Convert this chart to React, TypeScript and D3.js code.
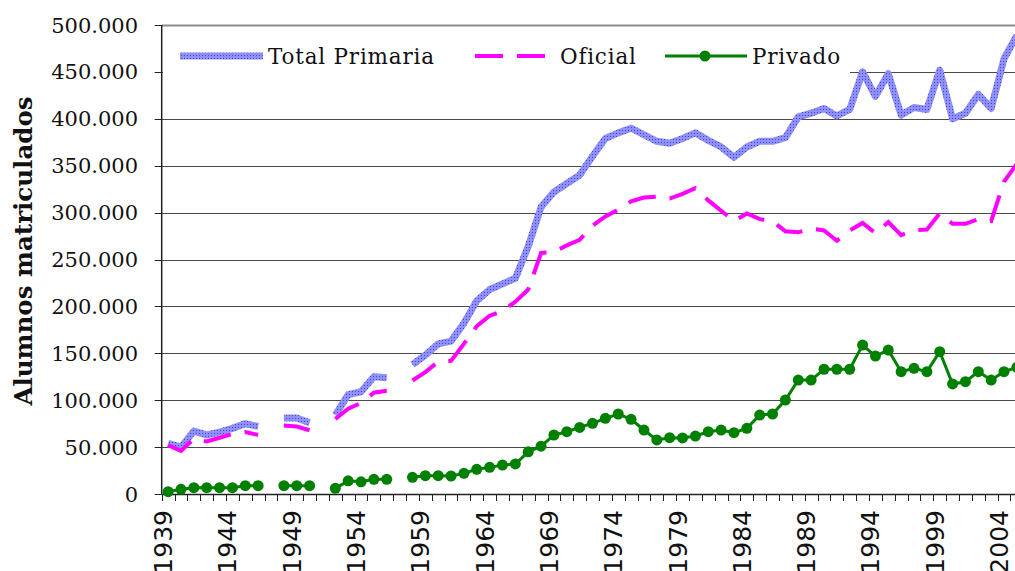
import React, { useEffect, useRef } from "react";
import * as d3 from "d3";

// 1939..2005, null = no data that year
const years = d3.range(1939, 2006);

const totalPrimaria = [
  54000, 50000, 67000, 63000, 66000, 70000, 75000, 72000, null, 81000,
  81000, 76000, null, 84000, 106000, 109000, 125000, 124000, null, 138000,
  148000, 160000, 163000, 182000, 206000, 218000, 224000, 230000, 264000, 306000,
  322000, 331000, 340000, 360000, 379000, 385000, 390000, 383000, 376000, 374000,
  379000, 385000, 377000, 370000, 359000, 370000, 376000, 376000, 380000, 402000,
  406000, 411000, 403000, 410000, 450000, 424000, 448000, 404000, 412000, 410000,
  452000, 400000, 406000, 426000, 411000, 464000, 489000,
];

const oficial = [
  52000, 46000, 59000, 56000, 60000, 64000, 66000, 63000, null, 73000,
  72000, 68000, null, 80000, 91000, 97000, 108000, 110000, null, 121000,
  130000, 141000, 142000, 160000, 179000, 190000, 195000, 205000, 218000, 257000,
  258000, 265000, 271000, 286000, 296000, 303000, 312000, 316000, 317000, 315000,
  320000, 326000, 313000, 302000, 291000, 299000, 293000, 291000, 280000, 279000,
  283000, 281000, 270000, 281000, 289000, 278000, 290000, 276000, 281000, 282000,
  299000, 288000, 288000, 293000, 291000, 333000, 352000,
];

const privado = [
  2500, 5000, 6700, 6700, 6700, 6700, 8900, 8900, null, 8900,
  8900, 8900, null, 6000, 14000, 13000, 15600, 15600, null, 17800,
  19500, 19500, 19200, 22000, 26300, 28400, 30900, 32000, 45000, 51000,
  62900, 66400, 71000, 75400, 80700, 85300, 79600, 68200, 57600, 60000,
  59800, 61800, 66400, 68200, 65400, 70000, 84200, 85300, 100200, 121500,
  121500, 133000, 133000, 133000, 158800, 147000, 153500, 130400, 134000, 130400,
  151700, 117300, 119700, 130400, 121500, 130400, 135000,
];

const yTicks = [0, 50000, 100000, 150000, 200000, 250000, 300000, 350000, 400000, 450000, 500000];
const xLabelYears = d3.range(1939, 2005, 5);

const serif = "'DejaVu Serif', serif";
const sans = "'DejaVu Sans', sans-serif";

export default function App() {
  const ref = useRef(null);

  useEffect(() => {
    draw();
  }, []);

  let draw = () => {
    let svg = d3.select(ref.current);
    svg.selectAll("*").remove();

    let left = 161.7;
    let step = 12.86;
    let top = 25;
    let bottom = 494;

    let fmt = d3.formatLocale({ decimal: ",", thousands: ".", grouping: [3], currency: ["", ""] }).format(",d");

    let xScale = d3
      .scaleBand()
      .domain(years.map(String))
      .range([left, left + step * years.length])
      .padding(0);
    let cx = (yr) => xScale(String(yr)) + xScale.bandwidth() / 2;

    let yScale = d3.scaleLinear().domain([0, 500000]).range([bottom, top]);

    let defs = svg.append("defs");
    let pat = defs
      .append("pattern")
      .attr("id", "bluePat")
      .attr("patternUnits", "userSpaceOnUse")
      .attr("width", 3)
      .attr("height", 3);
    pat.append("rect").attr("width", 3).attr("height", 3).attr("fill", "#9090fb");
    pat.append("rect").attr("x", 1).attr("y", 1).attr("width", 1).attr("height", 1).attr("fill", "#4646d6");

    // gridlines
    svg
      .append("g")
      .selectAll("line")
      .data(yTicks.filter((d) => d > 0))
      .enter()
      .append("line")
      .attr("x1", left)
      .attr("x2", 1015)
      .attr("y1", (d) => Math.round(yScale(d)) + 0.5)
      .attr("y2", (d) => Math.round(yScale(d)) + 0.5)
      .attr("stroke", (d) => (d === 500000 ? "#8c8c8c" : "#4a4a4a"))
      .attr("stroke-width", (d) => (d === 500000 ? 2 : 1));

    // legend box (hides the gridline behind it)
    svg.append("rect").attr("x", 163).attr("y", 32).attr("width", 687).attr("height", 47).attr("fill", "#fff");

    // y axis
    let yAxis = svg.append("g");
    yAxis
      .append("line")
      .attr("x1", left)
      .attr("x2", left)
      .attr("y1", top)
      .attr("y2", bottom)
      .attr("stroke", "#222")
      .attr("stroke-width", 1.5);
    yAxis
      .selectAll("line.tick")
      .data(yTicks)
      .enter()
      .append("line")
      .attr("class", "tick")
      .attr("x1", left - 7)
      .attr("x2", left)
      .attr("y1", (d) => Math.round(yScale(d)) + 0.5)
      .attr("y2", (d) => Math.round(yScale(d)) + 0.5)
      .attr("stroke", "#222");
    yAxis
      .selectAll("text")
      .data(yTicks)
      .enter()
      .append("text")
      .attr("x", 138)
      .attr("y", (d) => yScale(d))
      .attr("dy", "0.36em")
      .attr("text-anchor", "end")
      .attr("font-family", serif)
      .attr("font-size", 21)
      .attr("fill", "#111")
      .text((d) => fmt(d));

    svg
      .append("text")
      .attr("transform", "translate(32, 251) rotate(-90)")
      .attr("text-anchor", "middle")
      .attr("font-family", serif)
      .attr("font-weight", "bold")
      .attr("font-size", 24.5)
      .attr("fill", "#111")
      .text("Alumnos matriculados");

    // x axis
    let xAxis = svg.append("g");
    xAxis
      .append("line")
      .attr("x1", left)
      .attr("x2", 1015)
      .attr("y1", bottom + 0.5)
      .attr("y2", bottom + 0.5)
      .attr("stroke", "#222")
      .attr("stroke-width", 1.5);
    xAxis
      .selectAll("line.tick")
      .data(years.concat([2006]))
      .enter()
      .append("line")
      .attr("class", "tick")
      .attr("x1", (d, i) => Math.round(left + i * xScale.bandwidth()) + 0.5)
      .attr("x2", (d, i) => Math.round(left + i * xScale.bandwidth()) + 0.5)
      .attr("y1", bottom)
      .attr("y2", bottom + 7)
      .attr("stroke", "#222");
    xAxis
      .selectAll("text")
      .data(xLabelYears)
      .enter()
      .append("text")
      .attr("transform", (d) => `translate(${cx(d) + 4}, 510) rotate(-90)`)
      .attr("text-anchor", "end")
      .attr("font-family", sans)
      .attr("font-size", 25)
      .attr("fill", "#111")
      .text((d) => d);

    let line = (values) =>
      d3
        .line()
        .defined((d, i) => values[i] != null)
        .x((d, i) => cx(years[i]))
        .y((d, i) => yScale(values[i] ?? 0))(values);

    svg
      .append("path")
      .attr("d", line(totalPrimaria))
      .attr("fill", "none")
      .attr("stroke", "url(#bluePat)")
      .attr("stroke-width", 7)
      .attr("stroke-linejoin", "round");

    svg
      .append("path")
      .attr("d", line(oficial))
      .attr("fill", "none")
      .attr("stroke", "#ff00ff")
      .attr("stroke-width", 4)
      .attr("stroke-dasharray", "28 14");

    svg
      .append("path")
      .attr("d", line(privado))
      .attr("fill", "none")
      .attr("stroke", "#008000")
      .attr("stroke-width", 3);

    svg
      .append("g")
      .selectAll("circle")
      .data(years.filter((y, i) => privado[i] != null))
      .enter()
      .append("circle")
      .attr("cx", (d) => cx(d))
      .attr("cy", (d) => yScale(privado[years.indexOf(d)]))
      .attr("r", 5.5)
      .attr("fill", "#008000");

    // legend
    let lg = svg.append("g");
    let ly = 56;
    let legendText = (x, label) =>
      lg.append("text").attr("x", x).attr("y", 64).attr("font-family", serif).attr("font-size", 21.5)
        .attr("letter-spacing", 0.8).attr("fill", "#111").text(label);
    lg.append("line").attr("x1", 180).attr("x2", 263).attr("y1", ly).attr("y2", ly)
      .attr("stroke", "url(#bluePat)").attr("stroke-width", 7);
    legendText(268, "Total Primaria");
    lg.append("line").attr("x1", 475).attr("x2", 546).attr("y1", ly).attr("y2", ly)
      .attr("stroke", "#ff00ff").attr("stroke-width", 4).attr("stroke-dasharray", "28 14");
    legendText(560, "Oficial");
    lg.append("line").attr("x1", 665).attr("x2", 747).attr("y1", ly).attr("y2", ly)
      .attr("stroke", "#008000").attr("stroke-width", 3);
    lg.append("circle").attr("cx", 705).attr("cy", ly).attr("r", 5.5).attr("fill", "#008000");
    legendText(752, "Privado");
  };

  return (
    <svg
      ref={ref}
      width={1015}
      height={571}
      style={{ position: "absolute", left: 0, top: 0, background: "#fff" }}
    ></svg>
  );
}
